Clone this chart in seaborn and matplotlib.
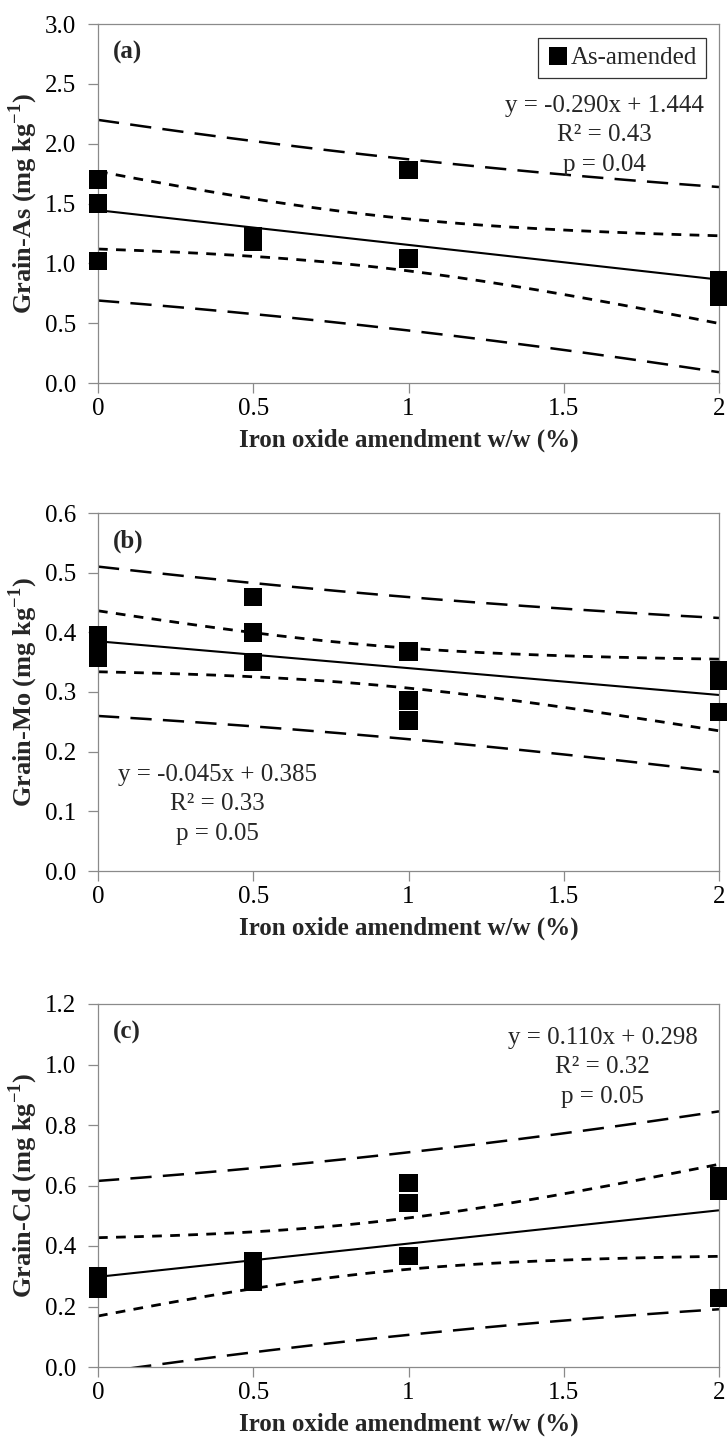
import numpy as np
import pandas as pd
import matplotlib
matplotlib.use("Agg")
import matplotlib.pyplot as plt
import seaborn as sns

# Grain concentrations (mg/kg) against iron oxide amendment (% w/w)
amendment_as = [0, 0, 0, 0.5, 0.5, 1, 1, 2, 2, 2]
grain_as = [1.70, 1.50, 1.02, 1.23, 1.18, 1.78, 1.04, 0.86, 0.79, 0.72]

amendment_mo = [0, 0, 0, 0.5, 0.5, 0.5, 1, 1, 1, 2, 2, 2]
grain_mo = [0.395, 0.375, 0.357, 0.459, 0.400, 0.350, 0.368, 0.286, 0.252,
            0.336, 0.318, 0.267]

amendment_cd = [0, 0, 0, 0.5, 0.5, 0.5, 1, 1, 1, 2, 2, 2]
grain_cd = [0.30, 0.28, 0.26, 0.35, 0.31, 0.28, 0.608, 0.543, 0.367,
            0.630, 0.581, 0.229]

# Fitted regressions and statistics
slopes = [-0.290, -0.045, 0.110]
intercepts = [1.444, 0.385, 0.298]
r_squared = ["0.43", "0.33", "0.32"]
p_values = ["0.04", "0.05", "0.05"]

# Two-sided 95% Student t critical values by degrees of freedom
t_crit = {8: 2.306, 10: 2.228}

panel_letters = ["(a)", "(b)", "(c)"]
element_names = ["As", "Mo", "Cd"]
y_limits = [(0, 3.0), (0, 0.6), (0, 1.2)]
y_steps = [0.5, 0.1, 0.2]
x_ticks = [0, 0.5, 1, 1.5, 2]
x_tick_labels = ["0", "0.5", "1", "1.5", "2"]
legend_label = "As-amended"
x_title = "Iron oxide amendment w/w (%)"

sns.set_theme(style="ticks")
plt.rcParams["font.family"] = ["Liberation Serif", "DejaVu Serif"]
plt.rcParams["mathtext.fontset"] = "custom"
plt.rcParams["mathtext.rm"] = "Liberation Serif"
plt.rcParams["mathtext.bf"] = "Liberation Serif:bold"

W, H = 727, 1447
fig = plt.figure(figsize=(W / 100, H / 100), dpi=100)
fig.patch.set_facecolor("white")

# axes boxes in pixels: (top, bottom)
left_px, right_px = 98, 719
boxes = [(24, 383), (513, 871), (1004, 1367)]
# equation block centre (axes fraction x, first line centre in px below top)
eq_pos = [(0.815, 82), (0.193, 262), (0.813, 34)]

datasets = [(amendment_as, grain_as), (amendment_mo, grain_mo),
            (amendment_cd, grain_cd)]

spine_col = "#8a8a8a"
fs = 18

for i, ((xs, ys), (top, bot)) in enumerate(zip(datasets, boxes)):
    h_px = bot - top
    ax = fig.add_axes([left_px / W, (H - bot) / H,
                       (right_px - left_px) / W, h_px / H])
    df = pd.DataFrame({"x": xs, "y": ys, "group": legend_label})

    # regression line and 95% confidence / prediction bands
    x = np.asarray(xs, float)
    y = np.asarray(ys, float)
    n = len(x)
    b, a = slopes[i], intercepts[i]
    resid = y - (a + b * x)
    s = np.sqrt(np.sum(resid ** 2) / (n - 2))
    t = t_crit[n - 2]
    xbar = x.mean()
    sxx = np.sum((x - xbar) ** 2)
    grid = np.linspace(0, 2, 200)
    fit = a + b * grid
    se_mean = s * np.sqrt(1 / n + (grid - xbar) ** 2 / sxx)
    se_pred = s * np.sqrt(1 + 1 / n + (grid - xbar) ** 2 / sxx)

    ax.plot(grid, fit, color="black", lw=1.5, solid_capstyle="butt")
    for sign in (1, -1):
        ax.plot(grid, fit + sign * t * se_mean, color="black", lw=2.0,
                dashes=(3.5, 3.0))
        ax.plot(grid, fit + sign * t * se_pred, color="black", lw=1.8,
                dashes=(8.5, 4.5))

    sns.scatterplot(data=df, x="x", y="y", hue="group", palette=["black"],
                    marker="s", s=175, linewidth=0, ax=ax, clip_on=False,
                    zorder=5, legend=(i == 0))

    ax.set_xlim(0, 2)
    ax.set_ylim(*y_limits[i])
    ax.set_xticks(x_ticks)
    ax.set_xticklabels(x_tick_labels)
    lo, hi = y_limits[i]
    yt = np.arange(lo, hi + y_steps[i] / 2, y_steps[i])
    ax.set_yticks(yt)
    ax.set_yticklabels([f"{v:.1f}" for v in yt])

    for sp in ax.spines.values():
        sp.set_visible(True)
        sp.set_color(spine_col)
        sp.set_linewidth(0.9)
    ax.tick_params(axis="both", direction="out", length=7, width=0.9,
                   color=spine_col, labelsize=fs, labelcolor="black")
    ax.tick_params(axis="x", pad=3.5)
    ax.tick_params(axis="y", pad=8.5)

    ax.set_xlabel(x_title, fontsize=fs, fontweight="bold")
    ax.xaxis.set_label_coords(0.5, -46 / h_px)
    ax.set_ylabel(f"Grain-{element_names[i]} (mg kg$^{{\\mathbf{{-1}}}}$)",
                  fontsize=19, fontweight="bold")
    ax.yaxis.set_label_coords(-0.094, 0.5)

    ax.text(0.024, 1 - 28 / h_px, panel_letters[i], transform=ax.transAxes,
            ha="left", va="center", fontsize=fs, fontweight="bold")

    cx, dy = eq_pos[i]
    sign_txt = "+" if intercepts[i] >= 0 else "-"
    lines = [f"y = {slopes[i]:.3f}x {sign_txt} {abs(intercepts[i]):.3f}",
             f"R² = {r_squared[i]}",
             f"p = {p_values[i]}"]
    for k, line in enumerate(lines):
        ax.annotate(line, xy=(cx, 1 - dy / h_px), xycoords="axes fraction",
                    xytext=(0, -k * 21.2), textcoords="offset points",
                    ha="center", va="center", fontsize=fs)

    if i == 0:
        leg = ax.legend(loc="upper right", bbox_to_anchor=(0.979, 0.961),
                        borderaxespad=0, frameon=True, fancybox=False,
                        fontsize=fs, handletextpad=0.05, borderpad=0.35,
                        handlelength=0.9, markerscale=1.0)
        leg.get_frame().set_edgecolor("black")
        leg.get_frame().set_linewidth(0.9)

fig.savefig("out.png", dpi=100, facecolor="white")
